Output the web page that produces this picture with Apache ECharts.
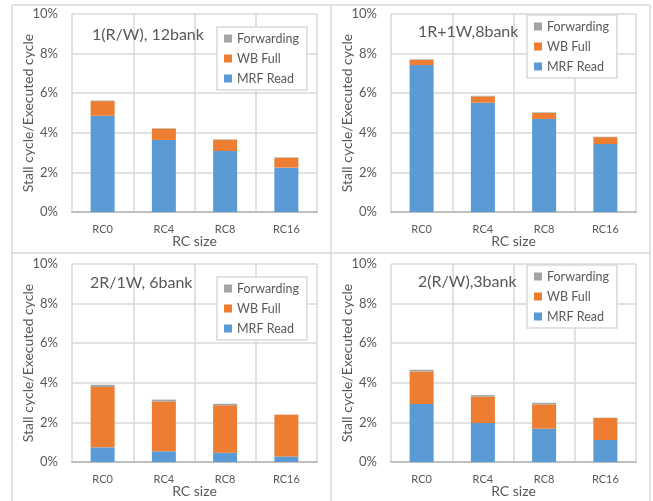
<!DOCTYPE html>
<html>
<head>
<meta charset="utf-8">
<script src="https://cdn.jsdelivr.net/npm/echarts@6/dist/echarts.min.js"></script>
<style>
  html, body { margin: 0; padding: 0; background: #fff; }
  #chart { width: 653px; height: 501px; }
</style>
</head>
<body>
<div id="chart"></div>
<script>
// Register-file configurations: stall cycles as % of executed cycles
const categories = ['RC0', 'RC4', 'RC8', 'RC16'];
const yTicks = [0, 2, 4, 6, 8, 10];
const seriesNames = ['MRF Read', 'WB Full', 'Forwarding'];
const legendOrder = ['Forwarding', 'WB Full', 'MRF Read'];
const panelTitles = ['1(R/W), 12bank', '1R+1W,8bank', '2R/1W, 6bank', '2(R/W),3bank'];

const mrfRead1 = [4.86, 3.64, 3.08, 2.24];
const wbFull1 = [0.74, 0.57, 0.57, 0.50];
const forwarding1 = [0.03, 0.02, 0.02, 0.02];

const mrfRead2 = [7.42, 5.52, 4.70, 3.43];
const wbFull2 = [0.26, 0.32, 0.30, 0.35];
const forwarding2 = [0.03, 0.03, 0.03, 0.02];

const mrfRead3 = [0.74, 0.54, 0.47, 0.28];
const wbFull3 = [3.05, 2.51, 2.39, 2.11];
const forwarding3 = [0.11, 0.10, 0.08, 0.01];

const mrfRead4 = [2.93, 1.97, 1.68, 1.11];
const wbFull4 = [1.64, 1.33, 1.23, 1.11];
const forwarding4 = [0.09, 0.08, 0.08, 0.02];

const panelData = [
  [mrfRead1, wbFull1, forwarding1],
  [mrfRead2, wbFull2, forwarding2],
  [mrfRead3, wbFull3, forwarding3],
  [mrfRead4, wbFull4, forwarding4]
];

const colors = ['#5B9BD5', '#ED7D31', '#A5A5A5'];
const textColor = '#595959';
const gridColor = '#D9D9D9';
const FONT = 'Lato, "Open Sans", sans-serif';

// panel layout: [gridLeft, gridTop, legendLeft, legendTop, titleLeft, titleTop]
const layout = [
  [72, 14, 217, 27, 87, 22],
  [391, 14, 527, 15, 413, 19],
  [72, 264, 217, 277, 85, 270],
  [391, 264, 527, 265, 413, 269]
];
const gridW = 245, gridH = 198;

const grids = [], xAxes = [], yAxes = [], series = [], legends = [], titles = [];

layout.forEach((L, i) => {
  grids.push({ left: L[0], top: L[1], width: gridW, height: gridH, containLabel: false });
  xAxes.push({
    type: 'category', gridIndex: i, data: categories,
    name: 'RC size', nameLocation: 'middle', nameGap: 22, nameMoveOverlap: false,
    nameTextStyle: { color: textColor, fontSize: 14, fontFamily: FONT },
    axisLine: { show: true, lineStyle: { color: '#BFBFBF', width: 2 } },
    axisTick: { show: false },
    axisLabel: { color: textColor, fontSize: 11, fontFamily: FONT, margin: 12 },
    splitLine: { show: true, lineStyle: { color: gridColor, width: 1.5 } }
  });
  yAxes.push({
    type: 'value', gridIndex: i, min: yTicks[0], max: yTicks[yTicks.length - 1], interval: 2,
    name: 'Stall cycle/Executed cycle', nameLocation: 'middle', nameGap: 37, nameMoveOverlap: false,
    nameTextStyle: { color: textColor, fontSize: 14, fontFamily: FONT },
    axisLine: { show: false }, axisTick: { show: false },
    axisLabel: { color: textColor, fontSize: 13, fontFamily: FONT, margin: 14, formatter: '{value}%' },
    splitLine: { show: true, lineStyle: { color: gridColor, width: 1.5 } }
  });
  seriesNames.forEach((name, k) => {
    series.push({
      name: name, type: 'bar', stack: 'total' + i,
      xAxisIndex: i, yAxisIndex: i,
      barWidth: 24,
      itemStyle: { color: colors[k] },
      data: panelData[i][k]
    });
  });
  legends.push({
    data: legendOrder, orient: 'vertical',
    left: L[2], top: L[3],
    itemWidth: 8, itemHeight: 8, itemGap: 7,
    icon: 'rect',
    padding: [5, 8, 5, 7],
    backgroundColor: '#fff', borderColor: gridColor, borderWidth: 1.5,
    textStyle: { color: textColor, fontSize: 12.5, fontFamily: FONT, lineHeight: 12 },
    selectedMode: false
  });
  titles.push({
    text: panelTitles[i], left: L[4], top: L[5],
    textStyle: { color: textColor, fontSize: 16, fontWeight: 'normal', fontFamily: FONT }
  });
});

// light frames around each of the four charts
const frameStyle = { stroke: gridColor, lineWidth: 1.5 };
const frames = [
  { type: 'line', shape: { x1: 12, y1: 5, x2: 650, y2: 5 }, style: frameStyle },
  { type: 'line', shape: { x1: 12, y1: 253, x2: 650, y2: 253 }, style: frameStyle },
  { type: 'line', shape: { x1: 12, y1: 5, x2: 12, y2: 501 }, style: frameStyle },
  { type: 'line', shape: { x1: 331, y1: 5, x2: 331, y2: 501 }, style: frameStyle },
  { type: 'line', shape: { x1: 650, y1: 5, x2: 650, y2: 501 }, style: frameStyle }
];

const chart = echarts.init(document.getElementById('chart'), null, { renderer: 'canvas' });
chart.setOption({
  backgroundColor: '#fff',
  animation: false,
  title: titles,
  legend: legends,
  grid: grids,
  xAxis: xAxes,
  yAxis: yAxes,
  series: series,
  graphic: frames
});
</script>
</body>
</html>
